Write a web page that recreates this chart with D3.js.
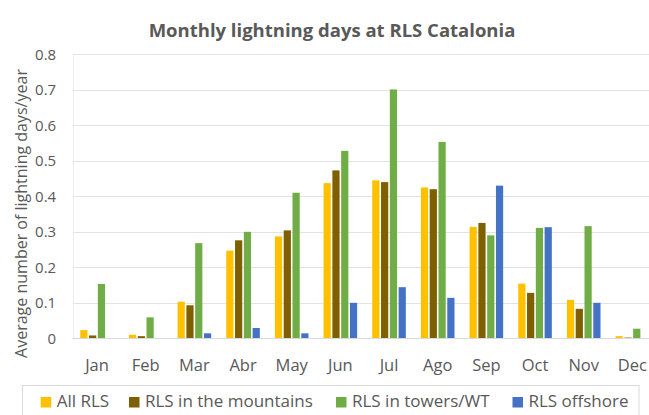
<!DOCTYPE html>
<html>
<head>
<meta charset="utf-8">
<script src="https://cdn.jsdelivr.net/npm/d3@7"></script>
<style>
  html, body { margin: 0; padding: 0; background: #fff; }
  svg { display: block; }
  text { font-family: "Open Sans", "Liberation Sans", sans-serif; fill: #595959; }
</style>
</head>
<body>
<svg id="chart" width="649" height="415"></svg>
<script>
// Average number of lightning days per year, by month and RLS group
const months = ["Jan", "Feb", "Mar", "Abr", "May", "Jun", "Jul", "Ago", "Sep", "Oct", "Nov", "Dec"];
const seriesNames = ["All RLS", "RLS in the mountains", "RLS in towers/WT", "RLS offshore"];
const allRLS       = [0.023, 0.010, 0.103, 0.247, 0.287, 0.437, 0.445, 0.425, 0.314, 0.154, 0.108, 0.006];
const mountainsRLS = [0.008, 0.006, 0.093, 0.276, 0.304, 0.473, 0.440, 0.420, 0.325, 0.128, 0.083, 0.002];
const towersRLS    = [0.153, 0.059, 0.268, 0.300, 0.410, 0.528, 0.701, 0.553, 0.290, 0.311, 0.316, 0.027];
const offshoreRLS  = [0.000, 0.000, 0.014, 0.029, 0.014, 0.100, 0.144, 0.114, 0.430, 0.313, 0.100, 0.000];
const yTicks = [0, 0.1, 0.2, 0.3, 0.4, 0.5, 0.6, 0.7, 0.8];
const colors = ["#FFC000", "#7F6000", "#70AD47", "#4472C4"];

const seriesValues = [allRLS, mountainsRLS, towersRLS, offshoreRLS];
const rows = months.map((m, i) => ({
  month: m,
  values: seriesNames.map((s, k) => ({ series: s, value: seriesValues[k][i], color: colors[k] }))
}));

const svg = d3.select("#chart");
const plot = { left: 72.7, right: 656.7, top: 54.3, bottom: 338.3 };

const x0 = d3.scaleBand()
  .domain(months)
  .range([plot.left, plot.right])
  .paddingInner(0.31)
  .paddingOuter(0.155);

const x1 = d3.scaleBand()
  .domain(seriesNames)
  .range([0, x0.bandwidth()])
  .paddingInner(0.18);

const y = d3.scaleLinear()
  .domain([0, 0.8])
  .range([plot.bottom, plot.top]);

// Horizontal gridlines
svg.append("g")
  .selectAll("line")
  .data(yTicks)
  .join("line")
  .attr("x1", plot.left)
  .attr("x2", plot.right)
  .attr("y1", d => Math.round(y(d)) + 0.5)
  .attr("y2", d => Math.round(y(d)) + 0.5)
  .attr("stroke", "#E3E3E3")
  .attr("stroke-width", 1);

// Faint left edge of the plot area
svg.append("line")
  .attr("x1", Math.round(plot.left) + 0.5)
  .attr("x2", Math.round(plot.left) + 0.5)
  .attr("y1", y(0.8))
  .attr("y2", y(0))
  .attr("stroke", "#EDEDED");

// Bars
const groups = svg.append("g")
  .selectAll("g")
  .data(rows)
  .join("g")
  .attr("transform", d => `translate(${x0(d.month)},0)`);

groups.selectAll("rect")
  .data(d => d.values)
  .join("rect")
  .attr("x", d => x1(d.series))
  .attr("width", x1.bandwidth())
  .attr("y", d => y(d.value))
  .attr("height", d => y(0) - y(d.value))
  .attr("fill", d => d.color);

// Baseline
svg.append("line")
  .attr("x1", plot.left)
  .attr("x2", plot.right)
  .attr("y1", Math.round(y(0)) + 0.5)
  .attr("y2", Math.round(y(0)) + 0.5)
  .attr("stroke", "#D9D9D9");

// Y axis tick labels
const yAxis = d3.axisLeft(y)
  .tickValues(yTicks)
  .tickFormat(d => d === 0 ? "0" : d3.format(".1f")(d))
  .tickSize(0)
  .tickPadding(0);

svg.append("g")
  .attr("transform", `translate(${plot.left - 16.5},0)`)
  .call(yAxis)
  .call(g => g.select(".domain").remove())
  .call(g => g.selectAll("text")
    .attr("font-size", 15)
    .style("font-family", "'Open Sans', sans-serif")
    .attr("fill", "#595959"));

// X axis labels
const xAxis = d3.axisBottom(x0).tickSize(0).tickPadding(0);
svg.append("g")
  .attr("transform", `translate(0,${plot.bottom})`)
  .call(xAxis)
  .call(g => g.select(".domain").remove())
  .call(g => g.selectAll("text")
    .attr("y", 32.5)
    .attr("dy", null)
    .attr("font-size", 16.5)
    .style("font-family", "'Open Sans', sans-serif")
    .attr("fill", "#595959"));

// Title
svg.append("text")
  .attr("x", 332)
  .attr("y", 37)
  .attr("text-anchor", "middle")
  .attr("font-size", 18.5)
  .attr("font-weight", "bold")
  .text("Monthly lightning days at RLS Catalonia");

// Y axis title
svg.append("text")
  .attr("transform", "translate(26.5,213.5) rotate(-90)")
  .attr("text-anchor", "middle")
  .attr("font-size", 16)
  .text("Average number of lightning days/year");

// Legend
const legend = svg.append("g");
legend.append("rect")
  .attr("x", 22.5)
  .attr("y", 385.5)
  .attr("width", 616.5)
  .attr("height", 40)
  .attr("fill", "none")
  .attr("stroke", "#D9D9D9");

const legendX = [40.7, 129, 336, 512.5];
const items = legend.selectAll("g.item")
  .data(seriesNames)
  .join("g")
  .attr("class", "item")
  .attr("transform", (d, i) => `translate(${legendX[i]},407)`);

items.append("rect")
  .attr("x", 0)
  .attr("y", -10)
  .attr("width", 10.5)
  .attr("height", 10.5)
  .attr("fill", (d, i) => colors[i]);

items.append("text")
  .attr("x", 16)
  .attr("y", 0)
  .attr("font-size", 17)
  .text(d => d);
</script>
</body>
</html>
